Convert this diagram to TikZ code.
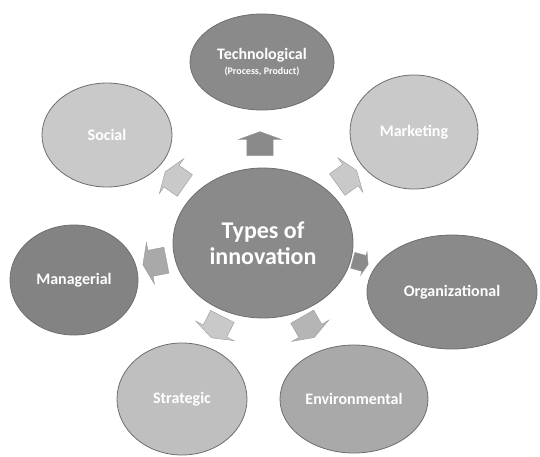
\documentclass[tikz,border=0pt]{standalone}
\usepackage{fontspec}
\setmainfont{Carlito}
\usetikzlibrary{shapes.geometric,shapes.arrows}
\definecolor{darkg}{HTML}{8A8A8A}
\definecolor{midg}{HTML}{A9A9A9}
\definecolor{lightg}{HTML}{C9C9C9}
\definecolor{edgeg}{HTML}{6E6E6E}
\tikzset{
  bubble/.style={ellipse, draw=edgeg, line width=0.8pt, inner sep=0pt,
    text=white, font=\bfseries\fontsize{16}{18}\selectfont, align=center},
  blockarrow/.style={single arrow, draw=edgeg!70, line width=0.4pt,
    inner xsep=1pt, inner ysep=13pt,
    minimum height=24pt, single arrow head extend=8pt,
    single arrow tip angle=140}
}
\begin{document}
\begin{tikzpicture}[x=1pt,y=-1pt]
\useasboundingbox (0,0) rectangle (540,456);
% outer bubbles
\node[bubble, fill=darkg, minimum width=144pt, minimum height=96pt] (tech) at (262,62)
  {Technological\\[-3pt]{\fontsize{10}{11}\selectfont(Process, Product)}};
\node[bubble, fill=lightg, minimum width=130pt, minimum height=104pt] (social) at (107,135) {Social};
\node[bubble, fill=lightg, minimum width=128pt, minimum height=114pt] (mark) at (414,132) {Marketing};
\node[bubble, fill=darkg!95!black, minimum width=128pt, minimum height=110pt] (manag) at (74,280) {Managerial};
\node[bubble, fill=darkg, minimum width=170pt, minimum height=114pt] (org) at (452,292) {Organizational};
\node[bubble, fill=lightg!95!black, minimum width=130pt, minimum height=112pt] (strat) at (182,399) {Strategic};
\node[bubble, fill=midg, minimum width=148pt, minimum height=108pt] (env) at (354,399) {Environmental};
% centre
\node[bubble, fill=darkg, minimum width=180pt, minimum height=150pt,
  font=\bfseries\fontsize{24}{26}\selectfont] (core) at (263,243) {Types of\\innovation};
% block arrows
\node[blockarrow, fill=darkg, rotate=90] (a1) at (260,146) {};
\node[blockarrow, fill=lightg, rotate=145] (a2) at (177,180) {};
\node[blockarrow, fill=lightg, rotate=36] (a3) at (345,179) {};
\node[blockarrow, fill=darkg, rotate=-15, inner ysep=8pt, single arrow head extend=4pt, minimum height=16pt] (a4) at (359,262) {};
\node[blockarrow, fill=midg, rotate=191] (a5) at (157,262) {};
\node[blockarrow, fill=lightg, rotate=243] (a6) at (218,325) {};
\node[blockarrow, fill=lightg!90!black, rotate=-60] (a7) at (307,325) {};
\end{tikzpicture}
\end{document}
